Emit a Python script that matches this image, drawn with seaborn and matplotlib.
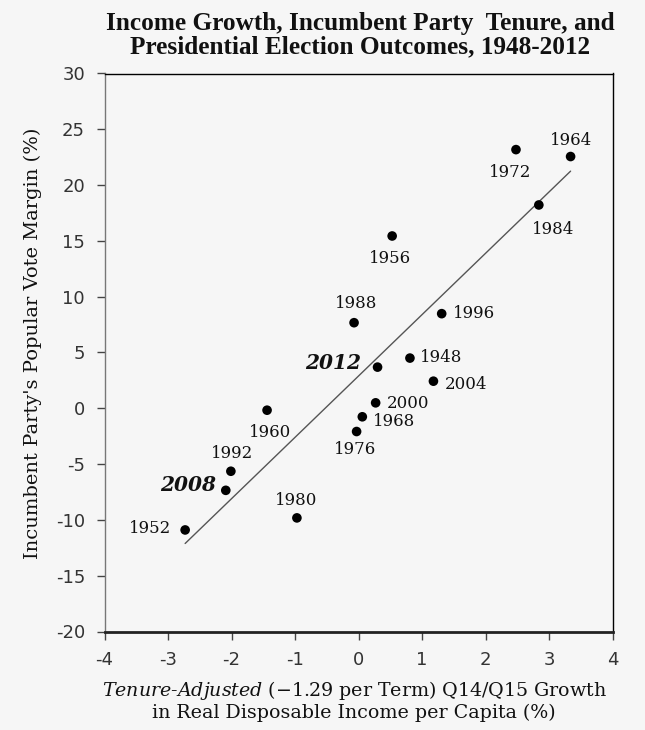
import matplotlib
matplotlib.use("Agg")
import matplotlib.pyplot as plt
import seaborn as sns
import pandas as pd

# data
years = [1948, 1952, 1956, 1960, 1964, 1968, 1972, 1976, 1980,
         1984, 1988, 1992, 1996, 2000, 2004, 2008, 2012]
growth = [0.81, -2.73, 0.53, -1.44, 3.34, 0.06, 2.48, -0.03, -0.97,
          2.84, -0.07, -2.01, 1.31, 0.27, 1.18, -2.09, 0.30]
margin = [4.5, -10.9, 15.44, -0.17, 22.56, -0.76, 23.18, -2.08, -9.82,
          18.22, 7.67, -5.64, 8.48, 0.49, 2.43, -7.35, 3.69]
highlight = [2008, 2012]

x_ticks = list(range(-4, 5))
y_ticks = list(range(-20, 31, 5))

# label placement next to each dot: (dx px, dy px, ha)
label_pos = {
    1948: (10, 1, "left"), 1952: (-14, 1, "right"), 1956: (-2, -23, "center"),
    1960: (3, -22, "center"), 1964: (0, 16, "center"), 1968: (11, -5, "left"),
    1972: (-6, -23, "center"), 1976: (-2, -18, "center"), 1980: (-1, 17, "center"),
    1984: (14, -25, "center"), 1988: (2, 19, "center"), 1992: (1, 18, "center"),
    1996: (11, 0, "left"), 2000: (11, -1, "left"), 2004: (11, -3, "left"),
    2008: (-10, 5, "right"), 2012: (-16, 4, "right"),
}

BG = "#f6f6f6"
SERIF = "DejaVu Serif"

sns.set_theme(style="ticks")
plt.rcParams.update({
    "font.family": ["DejaVu Sans"],
    "axes.unicode_minus": False,
    "mathtext.fontset": "custom",
    "mathtext.rm": SERIF,
    "mathtext.it": SERIF + ":italic",
})

df = pd.DataFrame({"year": years, "growth": growth, "margin": margin})

fig = plt.figure(figsize=(6.45, 7.30), dpi=100, facecolor=BG)
ax = fig.add_axes([104.5 / 645, 1 - 631.5 / 730, 508 / 645, 558 / 730])
ax.set_facecolor(BG)

sns.regplot(data=df, x="growth", y="margin", scatter=False, ci=None,
            truncate=True, ax=ax, line_kws=dict(color="#555555", lw=1.0))
sns.scatterplot(data=df, x="growth", y="margin", color="black", s=48,
                edgecolor="none", ax=ax, zorder=3, legend=False)

for yr, gx, my in zip(years, growth, margin):
    dx, dy, ha = label_pos[yr]
    if yr in highlight:
        ax.annotate(str(yr), (gx, my), xytext=(dx, dy), textcoords="offset pixels",
                    ha=ha, va="center", family=SERIF, fontsize=14.5,
                    fontweight="bold", fontstyle="italic", color="#111111")
    else:
        ax.annotate(str(yr), (gx, my), xytext=(dx, dy), textcoords="offset pixels",
                    ha=ha, va="center", family=SERIF, fontsize=12, color="#111111")

ax.set_xlim(-4, 4)
ax.set_ylim(-20, 30)
ax.set_xticks(x_ticks)
ax.set_yticks(y_ticks)
ax.set_xlabel("")
ax.set_ylabel("")
ax.tick_params(direction="out", length=6, width=1, color="#444444",
               labelsize=13, labelcolor="#333333", pad=8)

for side in ["top", "right"]:
    ax.spines[side].set_visible(True)
    ax.spines[side].set_color("black")
    ax.spines[side].set_linewidth(1.0)
ax.spines["left"].set_color("#777777")
ax.spines["left"].set_linewidth(1.0)
ax.spines["bottom"].set_color("#222222")
ax.spines["bottom"].set_linewidth(2.0)

fig.text(0.558, 1 - 35 / 730,
         "Income Growth, Incumbent Party  Tenure, and\nPresidential Election Outcomes, 1948-2012",
         ha="center", va="center", family="Liberation Serif", fontweight="bold",
         fontsize=18.2, linespacing=0.98, color="#111111")

fig.text(33 / 645, 1 - 343 / 730, "Incumbent Party's Popular Vote Margin (%)",
         rotation=90, ha="center", va="center", family=SERIF, fontsize=14,
         color="#111111")

fig.text(355 / 645, 1 - 690 / 730,
         r"$\mathit{Tenure}$-$\mathit{Adjusted}$ (−1.29 per Term) Q14/Q15 Growth",
         ha="center", va="center", family=SERIF, fontsize=13.7, color="#111111")
fig.text(354 / 645, 1 - 713 / 730, "in Real Disposable Income per Capita (%)",
         ha="center", va="center", family=SERIF, fontsize=13.7, color="#111111")

fig.savefig("out.png", dpi=100, facecolor=BG)
